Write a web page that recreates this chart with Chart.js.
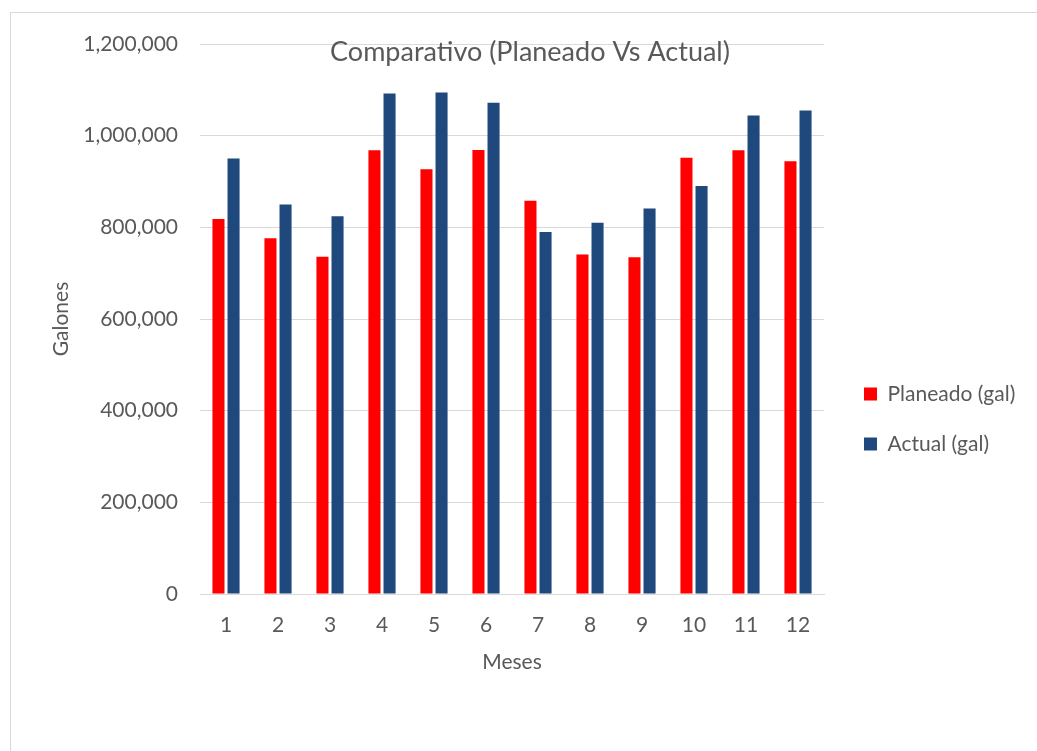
<!DOCTYPE html>
<html><head><meta charset="utf-8">
<script src="https://cdn.jsdelivr.net/npm/chart.js@4.4.1/dist/chart.umd.min.js"></script>
<style>
html,body{margin:0;padding:0;background:#fff;}
#wrap{position:relative;width:1037px;height:751px;overflow:hidden;}
#frame{position:absolute;left:10px;top:12px;width:1100px;height:900px;border:1px solid #d9d9d9;}
canvas{position:absolute;left:0;top:0;}
</style></head><body>
<div id="wrap"><div id="frame"></div><canvas id="c" width="1037" height="751"></canvas></div>
<script>
const months = ['1','2','3','4','5','6','7','8','9','10','11','12'];
const planeado = [818000, 776000, 736000, 968000, 927000, 969000, 858000, 741000, 735000, 952000, 968000, 944000];
const actual = [950000, 850000, 824000, 1092000, 1094000, 1072000, 790000, 810000, 841000, 890000, 1044000, 1055000];
const yMin = 0, yMax = 1200000, yStep = 200000;
const seriesNames = ['Planeado (gal)', 'Actual (gal)'];
const titleText = 'Comparativo (Planeado Vs Actual)';
const xTitle = 'Meses';
const yTitle = 'Galones';

const FONT = 'Lato';
const TXT = '#595959';
const GRID = '#d9d9d9';
const TITLE_SIZE = 27;

const placeBoxes = {
  id: 'placeBoxes',
  afterLayout(chart) {
    const ca = chart.chartArea;
    const tb = chart.titleBlock;
    if (tb) {
      const h = tb.height;
      tb.top = ca.top + 8 - h / 2; tb.bottom = tb.top + h;
      tb.left = 10; tb.right = 1050; tb.width = 1040;
    }
    const lg = chart.legend;
    if (lg) {
      const h = lg.height;
      lg.left = ca.right + 11; lg.width = 205; lg.right = lg.left + lg.width;
      lg.top = ca.top + 310.5; lg.bottom = lg.top + h;
    }
  }
};

new Chart(document.getElementById('c'), {
  type: 'bar',
  data: {
    labels: months,
    datasets: [
      { label: seriesNames[0], data: planeado, backgroundColor: '#ff0000', borderWidth: 0,
        categoryPercentage: 0.58, barPercentage: 0.8 },
      { label: seriesNames[1], data: actual, backgroundColor: '#1f497d', borderWidth: 0,
        categoryPercentage: 0.58, barPercentage: 0.8 }
    ]
  },
  options: {
    responsive: false,
    devicePixelRatio: 1,
    animation: false,
    layout: { padding: { left: 49, right: 63, top: 44 - TITLE_SIZE * 1.2, bottom: 76.4 } },
    plugins: {
      title: { display: true, text: titleText, color: TXT, padding: 0, fullSize: true,
        font: { family: FONT, size: TITLE_SIZE, weight: 'normal' } },
      legend: { display: true, position: 'right', align: 'start', maxWidth: 150,
        labels: { color: TXT, boxWidth: 13, boxHeight: 13, padding: 29,
          font: { family: FONT, size: 21 } } },
      tooltip: { enabled: false }
    },
    scales: {
      x: {
        grid: { display: false, drawTicks: false },
        border: { display: true, color: GRID, width: 1 },
        ticks: { color: TXT, padding: 19, font: { family: FONT, size: 21 } },
        title: { display: true, text: xTitle, color: TXT, padding: { top: 11, bottom: 0 },
          font: { family: FONT, size: 21 } },
        afterFit(s) { s.height = 80.6; }
      },
      y: {
        min: yMin, max: yMax,
        grid: { color: GRID, lineWidth: 1, drawTicks: false },
        border: { display: false },
        ticks: { stepSize: yStep, color: TXT, padding: 22, font: { family: FONT, size: 21 },
          callback: v => Number(v).toLocaleString('en-US') },
        title: { display: true, text: yTitle, color: TXT, padding: 0,
          font: { family: FONT, size: 21 } },
        afterFit(s) { s.width = 151; }
      }
    }
  },
  plugins: [placeBoxes]
});
</script>
</body></html>
